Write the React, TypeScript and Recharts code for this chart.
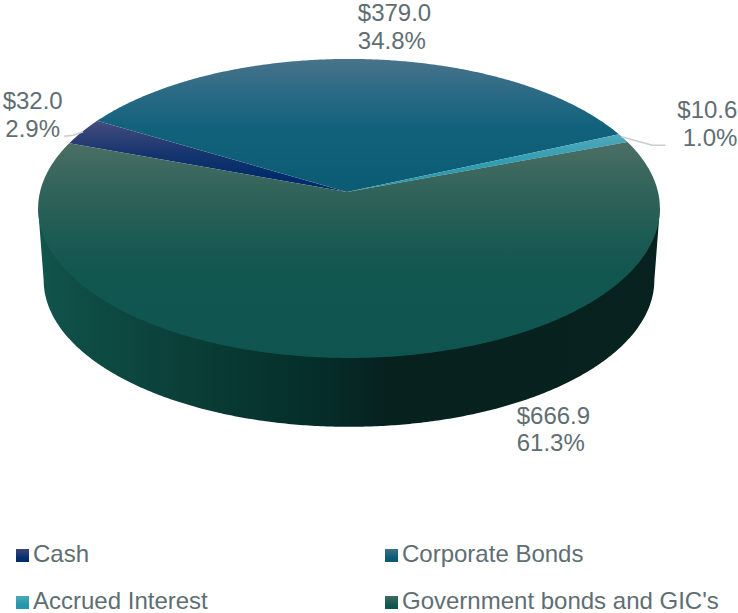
import React from "react";
import { PieChart, Pie, Legend } from "recharts";

const categories = ["Cash", "Corporate Bonds", "Accrued Interest", "Government bonds and GIC's"];
const values = [32.0, 379.0, 10.6, 666.9];

const data = categories.map((name, i) => ({ name, value: values[i], fill: `url(#top${i})` }));

const topStops = [
  [["0%", "#454c7e"], ["45%", "#17356f"], ["75%", "#032d6a"], ["100%", "#032d6a"]],
  [["0%", "#47748a"], ["25%", "#2c6a85"], ["50%", "#13627d"], ["100%", "#0c5b74"]],
  [["0%", "#4fa8ba"], ["50%", "#2f9db3"], ["100%", "#2496ad"]],
  [["0%", "#4b6e65"], ["25%", "#2e6259"], ["45%", "#1b5b53"], ["60%", "#125650"], ["100%", "#0f554f"]],
];
const wallStops = [
  ["0%", "#11554c"],
  ["8%", "#0e4c44"],
  ["20%", "#0b423b"],
  ["35%", "#07352f"],
  ["48%", "#052b27"],
  ["56%", "#07211f"],
  ["100%", "#082220"],
];
const swatchCss = [
  "linear-gradient(#3b4679, #032d6a 70%)",
  "linear-gradient(#3f7088, #0c5b74 70%)",
  "linear-gradient(#4fa8ba, #2496ad 70%)",
  "linear-gradient(#3f6b62, #0f554f 70%)",
];

// label placement relative to the rim point of each slice's middle angle
const labelLayout = [
  { dx: -49.5, dy: -23, anchor: "middle", gap: 28 },
  { dx: -7, dy: -38, anchor: "start", gap: 28 },
  { dx: 114, dy: -20, anchor: "end", gap: 28 },
  { dx: 166, dy: 66, anchor: "start", gap: 27 },
];

const CX = 349;
const CY = 192;
const SKEW = 0.11;
const TEXT = "#5f6e73";
const FONT = "'Liberation Sans', Arial, sans-serif";

// circle seen from above with some perspective: the rim is an ellipse whose
// centre sits below the pie apex
const rim = (deg: number, a = 309, b = 147.7, y0 = CY) => {
  const r = (deg * Math.PI) / 180;
  const w = 1 + SKEW * Math.sin(r);
  return [CX + (a * Math.cos(r)) / w, y0 - (b * Math.sin(r)) / w];
};

const sweep = (from: number, to: number) => {
  const pts: number[] = [];
  const n = Math.max(2, Math.ceil(Math.abs(from - to) * 2));
  for (let i = 0; i <= n; i++) pts.push(from + ((to - from) * i) / n);
  return pts;
};

function TopSlice(props: any) {
  const { startAngle, endAngle, fill } = props;
  const pts = sweep(startAngle, endAngle).map((d) => rim(d).join(","));
  return <path d={`M${CX - 2},${CY}L${pts.join("L")}Z`} fill={fill} stroke="none" />;
}

function WallSlice(props: any) {
  // only the front of the rim shows, between the two silhouette points
  const from = Math.min(props.startAngle, -6.3);
  const to = Math.max(props.endAngle, -173.7);
  if (from <= to) return <g />;
  const angles = sweep(from, to);
  // upper edge runs a little inside the rim so no white seam shows under the top
  const upper = angles.map((d) => rim(d, 300, 140).join(","));
  const lower = angles.map((d) => rim(d, 303.5, 145, 263.9).join(",")).reverse();
  const a = rim(from).join(",");
  const b = rim(to).join(",");
  return <path d={`M${a}L${upper.join("L")}L${b}L${lower.join("L")}Z`} fill="url(#wall)" stroke="none" />;
}

function SliceLabel(props: any) {
  const { index, midAngle, value, percent } = props;
  const [x, y] = rim(midAngle);
  const l = labelLayout[index];
  return (
    <g>
      {index === 0 && (
        <polyline points={`${x + 1},${y} ${x - 9},${y + 3.5} ${x - 18},${y + 4.5}`} fill="none" stroke="#c8cdd0" strokeWidth={1.5} />
      )}
      {index === 2 && (
        <polyline points={`${x - 2},${y - 1.5} ${x + 29},${y + 7} ${x + 42},${y + 7}`} fill="none" stroke="#c8cdd0" strokeWidth={1.5} />
      )}
      <text x={x + l.dx} y={y + l.dy} textAnchor={l.anchor as any} fontFamily={FONT} fontSize={24} fill={TEXT}>
        {`$${value.toFixed(1)}`}
      </text>
      <text x={x + l.dx} y={y + l.dy + l.gap} textAnchor={l.anchor as any} fontFamily={FONT} fontSize={24} fill={TEXT}>
        {`${(percent * 100).toFixed(1)}%`}
      </text>
    </g>
  );
}

function LegendGrid() {
  return (
    <div style={{ position: "relative", width: 738, height: 80, fontFamily: FONT, fontSize: 24, color: TEXT }}>
      {categories.map((name, i) => (
        <div key={name} style={{ position: "absolute", left: i % 2 ? 385 : 16, top: i < 2 ? 0 : 47, height: 28, lineHeight: "28px", whiteSpace: "nowrap" }}>
          <span style={{ display: "inline-block", width: 13, height: 13, marginRight: 4, background: swatchCss[i] }} />
          {name}
        </div>
      ))}
    </div>
  );
}

export default function App() {
  return (
    <div style={{ position: "absolute", left: 0, top: 0, width: 738, height: 613 }}>
      <PieChart width={738} height={613} margin={{ top: 0, right: 0, bottom: 0, left: 0 }}>
        <defs>
          {topStops.map((stops, i) => (
            <linearGradient key={i} id={`top${i}`} x1="0" y1="0" x2="0" y2="1">
              {stops.map(([o, c]) => (
                <stop key={o} offset={o} stopColor={c} />
              ))}
            </linearGradient>
          ))}
          <linearGradient id="wall" x1="0" y1="0" x2="1" y2="0">
            {wallStops.map(([o, c]) => (
              <stop key={o} offset={o} stopColor={c} />
            ))}
          </linearGradient>
        </defs>
        <Pie
          data={data}
          dataKey="value"
          nameKey="name"
          cx={CX}
          cy={CY}
          outerRadius={309}
          startAngle={160}
          endAngle={-200}
          legendType="none"
          shape={WallSlice}
          label={false}
          isAnimationActive={false}
        />
        <Pie
          data={data}
          dataKey="value"
          nameKey="name"
          cx={CX}
          cy={CY}
          outerRadius={309}
          startAngle={160}
          endAngle={-200}
          shape={TopSlice}
          label={SliceLabel}
          labelLine={false}
          isAnimationActive={false}
        />
        <Legend content={LegendGrid} wrapperStyle={{ left: 0, top: 540, width: 738, bottom: "auto" }} />
      </PieChart>
    </div>
  );
}
